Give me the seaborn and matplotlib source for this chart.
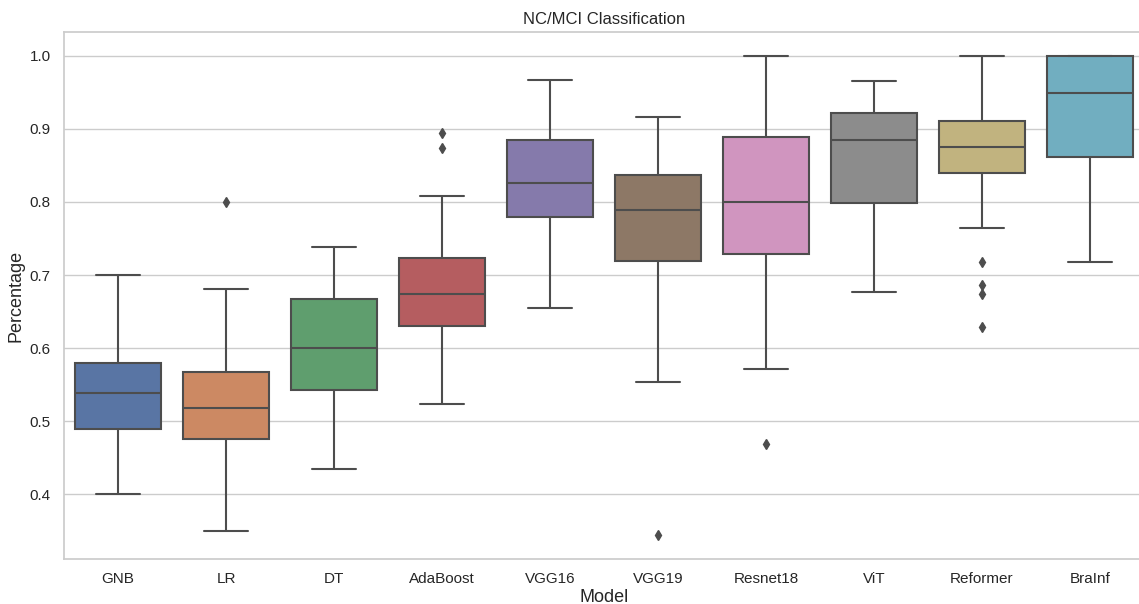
import pandas as pd
import matplotlib
matplotlib.use("Agg")
import matplotlib.pyplot as plt
import seaborn as sns

# model names in plotting order
models = ["GNB", "LR", "DT", "AdaBoost", "VGG16", "VGG19", "Resnet18", "ViT", "Reformer", "BraInf"]

# per-model scores (whiskers, quartiles, median, outliers)
gnb = [0.40, 0.44, 0.47, 0.4886, 0.50, 0.52, 0.5388, 0.55, 0.565, 0.5793, 0.61, 0.65, 0.70]
lr = [0.35, 0.42, 0.455, 0.4749, 0.49, 0.505, 0.5177, 0.53, 0.55, 0.5666, 0.61, 0.6815, 0.80]
dt = [0.4348, 0.48, 0.52, 0.5429, 0.56, 0.58, 0.60, 0.62, 0.645, 0.6665, 0.69, 0.715, 0.7386]
adaboost = [0.5237, 0.58, 0.61, 0.6305, 0.645, 0.66, 0.6738, 0.69, 0.705, 0.723, 0.8088, 0.8745, 0.8946]
vgg16 = [0.6551, 0.72, 0.76, 0.7797, 0.795, 0.81, 0.8262, 0.845, 0.865, 0.885, 0.91, 0.94, 0.9672]
vgg19 = [0.3439, 0.5533, 0.68, 0.7194, 0.74, 0.765, 0.7887, 0.805, 0.82, 0.8376, 0.86, 0.89, 0.916]
resnet18 = [0.4685, 0.5711, 0.68, 0.7294, 0.75, 0.775, 0.80, 0.83, 0.86, 0.8891, 0.93, 0.97, 1.0]
vit = [0.6765, 0.74, 0.78, 0.7983, 0.83, 0.86, 0.8855, 0.90, 0.91, 0.9215, 0.935, 0.95, 0.9662]
reformer = [0.6282, 0.6743, 0.6857, 0.7181, 0.765, 0.82, 0.8403,
            0.845, 0.85, 0.86, 0.865, 0.87, 0.8755,
            0.88, 0.885, 0.89, 0.90, 0.905, 0.911,
            0.92, 0.94, 0.96, 0.98, 0.99, 1.0]
brainf = [0.7185, 0.78, 0.84, 0.8618, 0.89, 0.92, 0.9489, 0.97, 0.99, 1.0, 1.0, 1.0, 1.0]

scores = [gnb, lr, dt, adaboost, vgg16, vgg19, resnet18, vit, reformer, brainf]

rows = []
for name, vals in zip(models, scores):
    for v in vals:
        rows.append({"Model": name, "Percentage": v})
df = pd.DataFrame(rows)

sns.set_theme(style="whitegrid")
plt.rcParams["font.family"] = ["Liberation Sans", "DejaVu Sans"]

fig = plt.figure(figsize=(11.39, 6.04), dpi=100)
ax = fig.add_axes([64 / 1139, 45 / 604, 1080 / 1139, 527 / 604])

sns.boxplot(data=df, x="Model", y="Percentage", hue="Model", order=models,
            palette="deep", legend=False, ax=ax, linecolor=".3", linewidth=1.5,
            flierprops={"marker": "d", "markerfacecolor": ".3", "markeredgecolor": ".3",
                        "markersize": 5})

ax.set_title("NC/MCI Classification", fontsize=12)
ax.set_xlabel("Model", fontsize=13, labelpad=2)
ax.set_ylabel("Percentage", fontsize=13)
ax.tick_params(labelsize=11)

fig.savefig("out.png", dpi=100)
